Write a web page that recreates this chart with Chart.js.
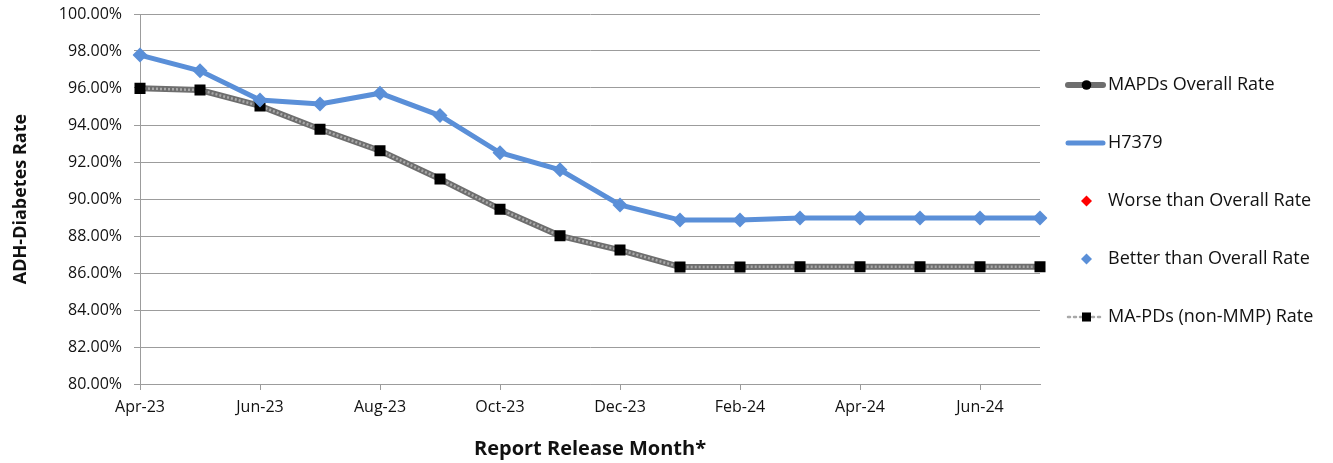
<!DOCTYPE html>
<html>
<head>
<meta charset="utf-8">
<script src="https://cdn.jsdelivr.net/npm/chart.js@4.4.0/dist/chart.umd.min.js"></script>
<style>
  html, body { margin: 0; padding: 0; background: #ffffff; }
  canvas { display: block; }
</style>
</head>
<body>
<canvas id="rateChart" width="1333" height="463"></canvas>
<script>
// Report release months (x categories) and the months that carry a tick label
const months = ['Apr-23','May-23','Jun-23','Jul-23','Aug-23','Sep-23','Oct-23','Nov-23',
                'Dec-23','Jan-24','Feb-24','Mar-24','Apr-24','May-24','Jun-24','Jul-24'];
const tickMonths = ['Apr-23','Jun-23','Aug-23','Oct-23','Dec-23','Feb-24','Apr-24','Jun-24'];

// Adherence rates, in percent
const mapdsOverall      = [95.98, 95.89, 95.03, 93.77, 92.61, 91.08, 89.45, 88.01,
                           87.24, 86.33, 86.33, 86.34, 86.34, 86.34, 86.34, 86.34];
const maPdsNonMmp       = [95.98, 95.89, 95.03, 93.77, 92.61, 91.08, 89.45, 88.01,
                           87.24, 86.33, 86.33, 86.34, 86.34, 86.34, 86.34, 86.34];
const h7379             = [97.78, 96.93, 95.35, 95.14, 95.72, 94.51, 92.50, 91.58,
                           89.68, 88.86, 88.86, 88.97, 88.97, 88.97, 88.97, 88.97];
const worseThanOverall  = [null, null, null, null, null, null, null, null,
                           null, null, null, null, null, null, null, null];
const betterThanOverall = [97.78, 96.93, 95.35, 95.14, 95.72, 94.51, 92.50, 91.58,
                           89.68, 88.86, 88.86, 88.97, 88.97, 88.97, 88.97, 88.97];

// Y axis tick values
const yTicks = [80, 82, 84, 86, 88, 90, 92, 94, 96, 98, 100];

const FONT = "'Open Sans', 'DejaVu Sans', sans-serif";
const TEXT = '#111111';
const GRID = '#9c9c9c';
const BLUE = '#5a8fd8';

const legendOrder = ['MAPDs Overall Rate', 'H7379', 'Worse than Overall Rate',
                     'Better than Overall Rate', 'MA-PDs (non-MMP) Rate'];

// Legend drawn in the right margin: line sample and/or marker, then the name
const sideLegend = {
  id: 'sideLegend',
  afterDraw(chart) {
    const ctx = chart.ctx;
    const area = chart.chartArea;
    const x0 = area.right + 26;
    const sampleW = 39;
    let y = area.top + 71;
    const step = 58;
    ctx.save();
    ctx.font = '18px ' + FONT;
    ctx.textBaseline = 'middle';
    ctx.textAlign = 'left';
    legendOrder.forEach(name => {
      const ds = chart.data.datasets.find(d => d.label === name);
      if (ds.showLine !== false) {
        ctx.save();
        ctx.strokeStyle = ds.borderColor;
        ctx.lineWidth = ds.borderWidth;
        ctx.lineCap = 'round';
        ctx.setLineDash(ds.legendDash || []);
        ctx.beginPath();
        ctx.moveTo(x0 + 2, y);
        ctx.lineTo(x0 + sampleW - 2, y);
        ctx.stroke();
        ctx.restore();
      }
      if (ds.legendRadius) {
        ctx.save();
        ctx.fillStyle = ds.pointBackgroundColor || ds.backgroundColor;
        Chart.helpers.drawPoint(ctx, {
          pointStyle: ds.pointStyle, radius: ds.legendRadius, borderWidth: 0, rotation: 0
        }, x0 + sampleW / 2 + 1, y);
        ctx.restore();
      }
      ctx.fillStyle = TEXT;
      ctx.fillText(name, x0 + sampleW + 3, y);
      y += step;
    });
    ctx.restore();
  }
};

new Chart(document.getElementById('rateChart'), {
  type: 'line',
  data: {
    labels: months,
    datasets: [
      {
        label: 'Better than Overall Rate', data: betterThanOverall,
        showLine: false, pointStyle: 'rectRot', pointRadius: 7.5,
        pointBackgroundColor: BLUE, backgroundColor: BLUE, borderColor: BLUE,
        pointBorderWidth: 0, legendRadius: 5.5, order: 0
      },
      {
        label: 'Worse than Overall Rate', data: worseThanOverall,
        showLine: false, pointStyle: 'rectRot', pointRadius: 7.5,
        pointBackgroundColor: '#ff0000', backgroundColor: '#ff0000', borderColor: '#ff0000',
        pointBorderWidth: 0, legendRadius: 5.5, order: 0
      },
      {
        label: 'H7379', data: h7379,
        borderColor: BLUE, backgroundColor: BLUE, borderWidth: 5,
        pointRadius: 0, tension: 0, order: 1
      },
      {
        label: 'MA-PDs (non-MMP) Rate', data: maPdsNonMmp,
        borderColor: '#a9a9a9', backgroundColor: '#000000', borderWidth: 2.5,
        borderDash: [2, 2], legendDash: [2, 4],
        pointStyle: 'rect', pointRadius: 7.8, pointBackgroundColor: '#000000',
        pointBorderWidth: 0, legendRadius: 6.4, tension: 0, order: 2
      },
      {
        label: 'MAPDs Overall Rate', data: mapdsOverall,
        borderColor: '#6e6e6e', backgroundColor: '#000000', borderWidth: 6,
        pointStyle: 'circle', pointRadius: 4, pointBackgroundColor: '#000000',
        pointBorderWidth: 0, legendRadius: 4.8, tension: 0, order: 3
      }
    ]
  },
  options: {
    responsive: false,
    devicePixelRatio: 1,
    animation: false,
    layout: { padding: { top: 14, right: 293, bottom: 0, left: 0 } },
    plugins: { legend: { display: false }, tooltip: { enabled: false } },
    scales: {
      x: {
        type: 'category',
        offset: false,
        grid: { display: true, drawOnChartArea: false, drawTicks: true, tickLength: 6, color: GRID },
        border: { display: true, color: GRID, width: 1 },
        ticks: {
          autoSkip: false, maxRotation: 0, minRotation: 0, padding: 8,
          color: TEXT, font: { family: FONT, size: 16 },
          callback(value, index) {
            const m = months[index];
            return tickMonths.includes(m) ? m : null;
          }
        },
        title: {
          display: true, text: 'Report Release Month*', color: TEXT,
          font: { family: FONT, size: 20, weight: 'bold' },
          padding: { top: 0, bottom: 2 }
        },
        afterFit(scale) { scale.height = 79; }
      },
      y: {
        min: 80, max: 100,
        afterBuildTicks(scale) { scale.ticks = yTicks.map(v => ({ value: v })); },
        grid: { color: GRID, tickLength: 6, drawTicks: true },
        border: { display: true, color: GRID, width: 1 },
        ticks: {
          padding: 12, color: TEXT, font: { family: FONT, size: 16 },
          callback: v => Number(v).toFixed(2) + '%'
        },
        title: {
          display: true, text: 'ADH-Diabetes Rate', color: TEXT,
          font: { family: FONT, size: 18, weight: 'bold' },
          padding: { top: 10, bottom: 0 }
        },
        afterFit(scale) {
          scale.width = 140;
          scale.paddingTop = 0;
          scale.paddingBottom = 0;
        }
      }
    }
  },
  plugins: [sideLegend]
});
</script>
</body>
</html>
